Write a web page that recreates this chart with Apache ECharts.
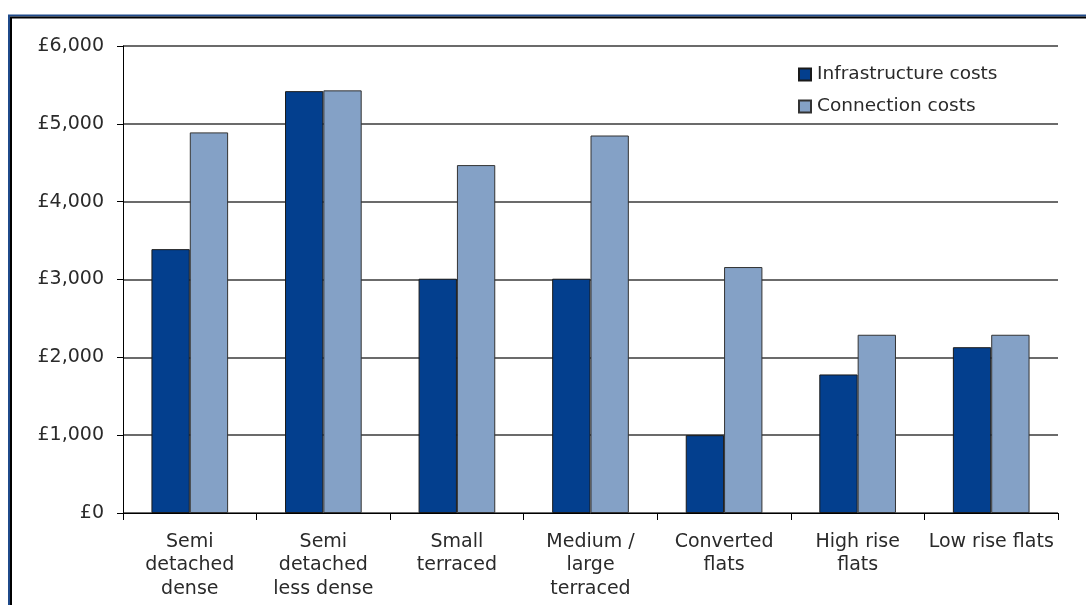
<!DOCTYPE html>
<html>
<head>
<meta charset="utf-8">
<title>Infrastructure and connection costs by dwelling type</title>
<script src="https://cdn.jsdelivr.net/npm/echarts@6/dist/echarts.min.js"></script>
<style>
  html, body { margin: 0; padding: 0; background: #ffffff; }
  #chart { width: 1086px; height: 605px; }
</style>
</head>
<body>
<div id="chart"></div>
<script>
// Dwelling types (x axis categories)
const categories = [
  'Semi\ndetached\ndense',
  'Semi\ndetached\nless dense',
  'Small\nterraced',
  'Medium /\nlarge\nterraced',
  'Converted\nflats',
  'High rise\nflats',
  'Low rise flats'
];

// Cost per dwelling, £
const infrastructureCosts = [3390, 5420, 3010, 3010, 1000, 1780, 2130];
const connectionCosts = [4890, 5430, 4470, 4850, 3160, 2290, 2290];

// Y axis range
const yMin = 0;
const yMax = 6000;
const yStep = 1000;

const textColor = '#2a2a2a';
const fontFamily = '"DejaVu Sans", Arial, sans-serif';

const chart = echarts.init(document.getElementById('chart'), null, { renderer: 'canvas' });

chart.setOption({
  backgroundColor: '#ffffff',
  animation: false,
  graphic: [
    {
      type: 'rect',
      shape: { x: 9, y: 15.5, width: 1200, height: 800 },
      style: { fill: 'none', stroke: '#1F4A8A', lineWidth: 2 },
      silent: true
    },
    {
      type: 'rect',
      shape: { x: 11, y: 17.5, width: 1200, height: 800 },
      style: { fill: 'none', stroke: '#000000', lineWidth: 2 },
      silent: true
    }
  ],
  grid: {
    left: 123,
    top: 46,
    right: 28,
    bottom: 92,
    containLabel: false
  },
  legend: {
    orient: 'vertical',
    left: 793,
    top: 60,
    itemWidth: 12,
    itemHeight: 12,
    itemGap: 13,
    icon: 'rect',
    textStyle: {
      color: textColor,
      fontFamily: fontFamily,
      fontSize: 18.5,
      padding: [0, 0, 0, 1]
    },
    data: ['Infrastructure costs', 'Connection costs']
  },
  xAxis: {
    type: 'category',
    data: categories,
    boundaryGap: true,
    axisLine: { show: true, lineStyle: { color: '#000000', width: 1 } },
    axisTick: {
      show: true,
      alignWithLabel: false,
      interval: 0,
      length: 7,
      lineStyle: { color: '#000000', width: 1 }
    },
    axisLabel: {
      interval: 0,
      margin: 17,
      color: textColor,
      fontFamily: fontFamily,
      fontSize: 19,
      lineHeight: 23.5,
      align: 'center'
    },
    splitLine: { show: false }
  },
  yAxis: {
    type: 'value',
    min: yMin,
    max: yMax,
    interval: yStep,
    axisLine: { show: true, lineStyle: { color: '#000000', width: 1 } },
    axisTick: {
      show: true,
      inside: false,
      length: 6,
      lineStyle: { color: '#000000', width: 1 }
    },
    axisLabel: {
      margin: 19,
      color: textColor,
      fontFamily: fontFamily,
      fontSize: 19,
      formatter: function (v) {
        return '£' + v.toLocaleString('en-GB');
      }
    },
    splitLine: {
      show: true,
      lineStyle: { color: '#3a3a3a', width: 1.5 }
    }
  },
  series: [
    {
      name: 'Infrastructure costs',
      type: 'bar',
      data: infrastructureCosts,
      barWidth: '28.7%',
      barGap: '0%',
      itemStyle: {
        color: '#033F8E',
        borderColor: '#1a1a1a',
        borderWidth: 1
      }
    },
    {
      name: 'Connection costs',
      type: 'bar',
      data: connectionCosts,
      barWidth: '28.7%',
      barGap: '0%',
      itemStyle: {
        color: '#84A1C6',
        borderColor: '#333333',
        borderWidth: 1
      }
    }
  ]
});
</script>
</body>
</html>
